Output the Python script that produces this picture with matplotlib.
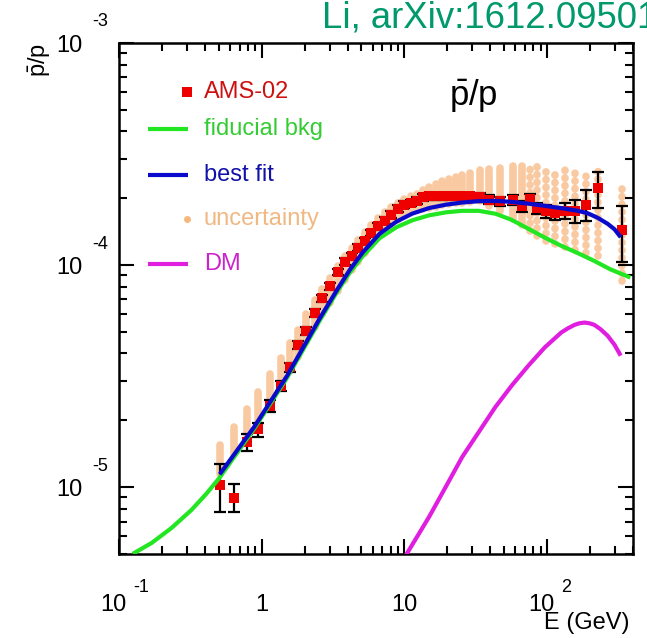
import numpy as np
import matplotlib
matplotlib.use('Agg')
import matplotlib.pyplot as plt
from matplotlib import transforms

plt.rcParams['font.family'] = ['Liberation Sans', 'DejaVu Sans']
plt.rcParams['mathtext.fontset'] = 'custom'
plt.rcParams['mathtext.rm'] = 'Liberation Sans'
plt.rcParams['mathtext.it'] = 'Liberation Sans'

# AMS-02 pbar/p data
ams_E = [0.508, 0.642, 0.787, 0.949, 1.142, 1.355, 1.572, 1.787, 2.053, 2.345,
         2.666, 3.014, 3.425, 3.831, 4.265, 4.741, 5.276, 5.873, 6.526, 7.262,
         8.085, 8.985, 10.0, 11.13, 12.17, 13.55, 14.92, 16.60, 18.45, 20.54,
         22.86, 25.41, 29.05, 34.10, 38.94, 46.94, 58.05, 66.3, 75.8, 84.3,
         98.9, 113.1, 132.7, 155.8, 187.5, 226.1, 333.4]
ams_R = [1.02e-5, 8.93e-6, 1.59e-5, 1.82e-5, 2.32e-5, 2.86e-5, 3.46e-5, 4.38e-5, 5.06e-5, 6.09e-5,
         7.11e-5, 8.05e-5, 9.30e-5, 1.037e-4, 1.097e-4, 1.197e-4, 1.281e-4, 1.396e-4, 1.496e-4, 1.585e-4,
         1.686e-4, 1.794e-4, 1.870e-4, 1.901e-4, 1.949e-4, 2.018e-4, 2.038e-4, 2.038e-4, 2.038e-4, 2.038e-4,
         2.04e-4, 2.04e-4, 2.04e-4, 2.018e-4, 1.971e-4, 1.936e-4, 1.971e-4, 1.839e-4, 1.99e-4, 1.807e-4,
         1.746e-4, 1.715e-4, 1.757e-4, 1.757e-4, 1.870e-4, 2.223e-4, 1.436e-4]
ams_err_lo = [2.5e-6, 1.2e-6, 1.4e-6, 1.3e-6, 1.4e-6, 1.4e-6, 1.6e-6, 1.8e-6, 2.0e-6, 2.3e-6,
              2.6e-6, 2.9e-6, 3.2e-6, 3.6e-6, 3.8e-6, 4.1e-6, 4.4e-6, 4.8e-6, 5.1e-6, 5.4e-6,
              5.7e-6, 6.1e-6, 6.4e-6, 6.5e-6, 6.7e-6, 6.9e-6, 7.0e-6, 7.2e-6, 7.3e-6, 7.4e-6,
              7.6e-6, 7.8e-6, 8.0e-6, 8.5e-6, 9.0e-6, 9.5e-6, 1.0e-5, 1.1e-5, 1.05e-5, 1.05e-5,
              1.1e-5, 1.2e-5, 1.5e-5, 2.1e-5, 2.95e-5, 4.2e-5, 4.0e-5]
ams_err_hi = [2.5e-6, 1.4e-6, 1.4e-6, 1.3e-6, 1.4e-6, 1.4e-6, 1.6e-6, 1.8e-6, 2.0e-6, 2.3e-6,
              2.6e-6, 2.9e-6, 3.2e-6, 3.6e-6, 3.8e-6, 4.1e-6, 4.4e-6, 4.8e-6, 5.1e-6, 5.4e-6,
              5.7e-6, 6.1e-6, 6.4e-6, 6.5e-6, 6.7e-6, 6.9e-6, 7.0e-6, 7.2e-6, 7.3e-6, 7.4e-6,
              7.6e-6, 7.8e-6, 8.0e-6, 8.5e-6, 9.0e-6, 9.5e-6, 1.0e-5, 1.1e-5, 1.05e-5, 1.05e-5,
              1.1e-5, 1.2e-5, 1.5e-5, 2.1e-5, 3.0e-5, 4.0e-5, 4.0e-5]

# uncertainty band (lower / upper edge at each AMS energy)
unc_lo = [1.143e-5, 1.405e-5, 1.68e-5, 1.977e-5, 2.41e-5, 2.86e-5, 3.33e-5, 3.85e-5, 4.51e-5, 5.24e-5,
          6.02e-5, 6.78e-5, 7.67e-5, 8.55e-5, 9.48e-5, 1.037e-4, 1.132e-4, 1.248e-4, 1.383e-4, 1.466e-4,
          1.528e-4, 1.592e-4, 1.66e-4, 1.73e-4, 1.762e-4, 1.79e-4, 1.81e-4, 1.835e-4, 1.86e-4, 1.88e-4,
          1.895e-4, 1.91e-4, 1.93e-4, 1.95e-4, 1.84e-4, 1.746e-4, 1.61e-4, 1.51e-4, 1.42e-4, 1.35e-4,
          1.281e-4, 1.24e-4, 1.205e-4, 1.17e-4, 1.13e-4, 1.10e-4, 8.48e-5]
unc_hi = [1.543e-5, 1.867e-5, 2.25e-5, 2.695e-5, 3.235e-5, 3.817e-5, 4.436e-5, 5.11e-5, 6.01e-5, 6.95e-5,
          7.83e-5, 8.77e-5, 9.9e-5, 1.097e-4, 1.19e-4, 1.294e-4, 1.406e-4, 1.51e-4, 1.625e-4, 1.73e-4,
          1.82e-4, 1.897e-4, 1.977e-4, 2.04e-4, 2.10e-4, 2.17e-4, 2.24e-4, 2.31e-4, 2.38e-4, 2.43e-4,
          2.48e-4, 2.535e-4, 2.61e-4, 2.67e-4, 2.71e-4, 2.75e-4, 2.78e-4, 2.78e-4, 2.78e-4, 2.78e-4,
          2.75e-4, 2.72e-4, 2.69e-4, 2.67e-4, 2.64e-4, 2.64e-4, 2.19e-4]

# fiducial background
bkg_E = [0.125, 0.1695, 0.2335, 0.321, 0.408, 0.503, 0.884, 1.508, 2.569, 3.425,
         4.150, 5.109, 6.707, 8.80, 11.36, 14.92, 19.57, 25.27, 33.18, 43.55,
         56.23, 73.8, 96.8, 125.1, 164.2, 215.4, 278.3, 383.1]
bkg_R = [5.01e-6, 5.61e-6, 6.55e-6, 7.88e-6, 9.31e-6, 1.096e-5, 1.830e-5, 3.114e-5, 5.67e-5, 7.69e-5,
         9.26e-5, 1.097e-4, 1.322e-4, 1.481e-4, 1.591e-4, 1.675e-4, 1.728e-4, 1.755e-4, 1.755e-4, 1.702e-4,
         1.600e-4, 1.458e-4, 1.328e-4, 1.223e-4, 1.132e-4, 1.042e-4, 9.56e-5, 8.79e-5]

# best fit
fit_E = [0.508, 0.884, 1.508, 2.569, 3.425, 4.150, 5.109, 6.707, 8.80, 11.36,
         14.92, 19.57, 25.27, 33.18, 43.55, 56.23, 73.8, 96.8, 125.1, 164.2,
         192.7, 226.1, 265.3, 296.7, 328.0]
fit_R = [1.143e-5, 1.864e-5, 3.178e-5, 5.80e-5, 7.86e-5, 9.53e-5, 1.141e-4, 1.384e-4, 1.570e-4, 1.705e-4,
         1.807e-4, 1.871e-4, 1.912e-4, 1.940e-4, 1.946e-4, 1.926e-4, 1.891e-4, 1.848e-4, 1.805e-4, 1.755e-4,
         1.711e-4, 1.633e-4, 1.535e-4, 1.450e-4, 1.335e-4]

# dark matter contribution
dm_E = [10.27, 14.92, 19.49, 25.41, 33.2, 43.3, 56.5, 73.8, 96.4, 125.7,
        139.9, 155.7, 168.7, 182.7, 197.9, 214.3, 237.1, 265.3, 296.7, 328.0]
dm_R = [4.95e-6, 7.36e-6, 1.003e-5, 1.367e-5, 1.77e-5, 2.29e-5, 2.867e-5, 3.52e-5, 4.26e-5, 4.97e-5,
        5.19e-5, 5.38e-5, 5.47e-5, 5.51e-5, 5.47e-5, 5.38e-5, 5.14e-5, 4.81e-5, 4.38e-5, 3.91e-5]

c_red = '#ee0000'
c_green = '#22e622'
c_blue = '#0a0acc'
c_mag = '#e01ee0'
c_peach = '#f9caa2'

W, H = 647, 638
fig = plt.figure(figsize=(W / 100, H / 100), dpi=100)
ax = fig.add_axes([119 / W, (H - 554) / H, (633 - 119) / W, (554 - 43) / H])
ax.set_xscale('log')
ax.set_yscale('log')
ax.set_xlim(0.1, 400)
ax.set_ylim(5e-6, 1e-3)

# uncertainty columns: solid where dense, beaded at high energy
n_solid = 38
vl = ax.vlines(ams_E[:n_solid], unc_lo[:n_solid], unc_hi[:n_solid], colors=c_peach, linewidth=5.5, zorder=1)
vl.set_capstyle('round')
vd = ax.vlines(ams_E[n_solid:], unc_lo[n_solid:], unc_hi[n_solid:], colors=c_peach, linewidth=5.5,
               linestyles=[(0, (0.05, 0.95))], zorder=1)
vd.set_capstyle('round')

ax.errorbar(ams_E, ams_R, yerr=[ams_err_lo, ams_err_hi], fmt='none', ecolor='black',
            elinewidth=1.6, capsize=4, capthick=1.6, zorder=2)
ax.plot(ams_E, ams_R, 's', color=c_red, markersize=6.5, markeredgewidth=0, zorder=3)
ax.plot(bkg_E, bkg_R, '-', color=c_green, lw=3, zorder=4, solid_capstyle='butt', solid_joinstyle='round')
ax.plot(fit_E, fit_R, '-', color=c_blue, lw=3, zorder=5, solid_capstyle='butt', solid_joinstyle='round')
ax.plot(dm_E, dm_R, '-', color=c_mag, lw=3, zorder=5, solid_capstyle='butt', solid_joinstyle='round')

# frame and ticks
for s in ax.spines.values():
    s.set_linewidth(1.8)
ax.tick_params(which='both', direction='in', top=True, right=True, width=1.5,
               labelbottom=False, labelleft=False)
ax.tick_params(which='major', length=11)
ax.tick_params(which='minor', length=6)

# tick labels, ROOT style
xt = transforms.offset_copy(ax.get_xaxis_transform(), fig=fig, x=0, y=-51, units='dots')
for xv, lab in [(1, '1'), (10, '10')]:
    ax.text(xv, 0, lab, transform=xt, ha='center', va='center', fontsize=17)
for xv, ex in [(0.1, '-1'), (100, '2')]:
    t1 = transforms.offset_copy(ax.get_xaxis_transform(), fig=fig, x=-6, y=-51, units='dots')
    t2 = transforms.offset_copy(ax.get_xaxis_transform(), fig=fig, x=14, y=-33, units='dots')
    ax.text(xv, 0, '10', transform=t1, ha='center', va='center', fontsize=17)
    ax.text(xv, 0, ex, transform=t2, ha='left', va='center', fontsize=13)

for yv, ex in [(1e-3, '-3'), (1e-4, '-4'), (1e-5, '-5')]:
    t1 = transforms.offset_copy(ax.get_yaxis_transform(), fig=fig, x=-37, y=-3, units='dots')
    t2 = transforms.offset_copy(ax.get_yaxis_transform(), fig=fig, x=-27, y=21, units='dots')
    ax.text(0, yv, '10', transform=t1, ha='right', va='center', fontsize=17, clip_on=False)
    ax.text(0, yv, ex, transform=t2, ha='left', va='center', fontsize=13, clip_on=False)

fig.text(630 / W, 1 - 623 / H, 'E (GeV)', ha='right', va='center', fontsize=17)
fig.text(40 / W, 1 - 60 / H, r'$\mathrm{\bar{p}/p}$', rotation=90, ha='center', va='center', fontsize=17)
ax.text(0.689, 0.898, r'$\mathrm{\bar{p}/p}$', transform=ax.transAxes, ha='center', va='center', fontsize=25)
fig.text(322 / W, 1 - 27 / H, 'Li, arXiv:1612.09501', ha='left', va='baseline',
         fontsize=26.3, color='#00996b')

# legend drawn by hand
ta = ax.transAxes
ax.plot([0.1323], [0.904], 's', color=c_red, markersize=6.5, markeredgewidth=0, transform=ta)
ax.plot([0.0564, 0.1342], [0.8317, 0.8317], color=c_green, lw=3, transform=ta, solid_capstyle='butt')
ax.plot([0.0564, 0.1342], [0.7417, 0.7417], color=c_blue, lw=3, transform=ta, solid_capstyle='butt')
ax.plot([0.1323], [0.6556], 'o', color='#f5b77c', markersize=5, markeredgewidth=0, transform=ta)
ax.plot([0.0564, 0.1342], [0.5675, 0.5675], color=c_mag, lw=3, transform=ta, solid_capstyle='butt')
leg_items = [('AMS-02', '#cc1111', 0.904), ('fiducial bkg', '#33cc33', 0.8317),
             ('best fit', '#1111aa', 0.7417), ('uncertainty', '#f0b882', 0.6556),
             ('DM', '#cc22cc', 0.5675)]
for lab, col, yy in leg_items:
    ax.text(0.165, yy, lab, transform=ta, ha='left', va='center', fontsize=17, color=col)

fig.savefig('out.png', dpi=100)
